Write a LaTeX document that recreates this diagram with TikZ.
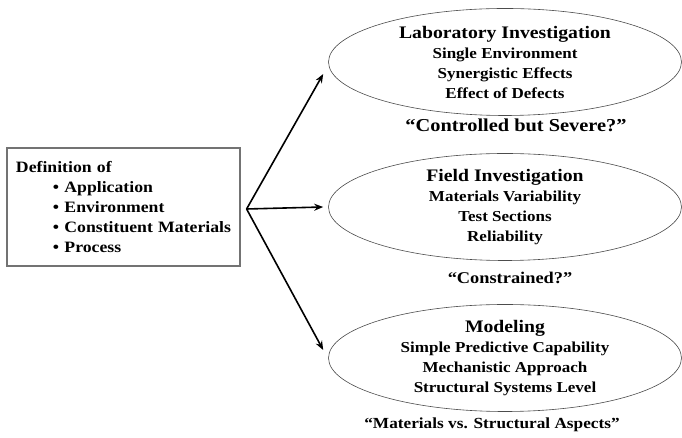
\documentclass[tikz,border=0pt]{standalone}
\usepackage{fontspec}
\setmainfont[FakeStretch=1.12]{Liberation Serif}
\usetikzlibrary{shapes.geometric,arrows.meta}
\begin{document}
\begin{tikzpicture}[x=1pt,y=1pt,
  ell/.style={ellipse,draw=black!70,line width=0.6pt,minimum width=353pt,minimum height=107pt,inner sep=0pt,align=center,font=\bfseries\fontsize{15.2}{20}\selectfont},
  quote/.style={font=\bfseries\fontsize{18.2}{20}\selectfont},
  defbox/.style={draw=black!55,line width=1.2pt,minimum width=233pt,minimum height=118pt,inner sep=9pt,align=left,font=\bfseries\fontsize{15.8}{20}\selectfont},
  arr/.style={-{Stealth[length=9pt,width=7pt]},line width=1.6pt,black}]
\useasboundingbox (0,0) rectangle (682,438);
\node[defbox,text width=215pt] (def) at (123.5,231) {Definition of\\
\hspace*{37pt}\textbullet\ Application\\
\hspace*{37pt}\textbullet\ Environment\\
\hspace*{37pt}\textbullet\ Constituent Materials\\
\hspace*{37pt}\textbullet\ Process};
\node[ell] (lab) at (505,376) {{\fontsize{17.6}{20}\selectfont Laboratory Investigation}\\Single Environment\\Synergistic Effects\\Effect of Defects};
\node[ell] (fld) at (505,231) {{\fontsize{17.6}{20}\selectfont Field Investigation}\\Materials Variability\\Test Sections\\Reliability};
\node[ell] (mod) at (505,80) {{\fontsize{17.6}{20}\selectfont Modeling}\\Simple Predictive Capability\\Mechanistic Approach\\Structural Systems Level};
\node[quote] (q1) at (516,313) {“Controlled but Severe?”};
\node[quote,font=\bfseries\fontsize{16.4}{20}\selectfont] (q2) at (510,160) {“Constrained?”};
\node[quote,font=\bfseries\fontsize{15.4}{20}\selectfont] (q3) at (492,13) {“Materials vs. Structural Aspects”};
\coordinate (br) at ([xshift=6pt,yshift=-2pt]def.east);
\draw[arr] (br) -- ([xshift=-5pt,yshift=-12pt]lab.west);
\draw[arr] (br) -- ([xshift=-5pt]fld.west);
\draw[arr] (br) -- ([xshift=-5pt,yshift=8pt]mod.west);
\end{tikzpicture}
\end{document}
